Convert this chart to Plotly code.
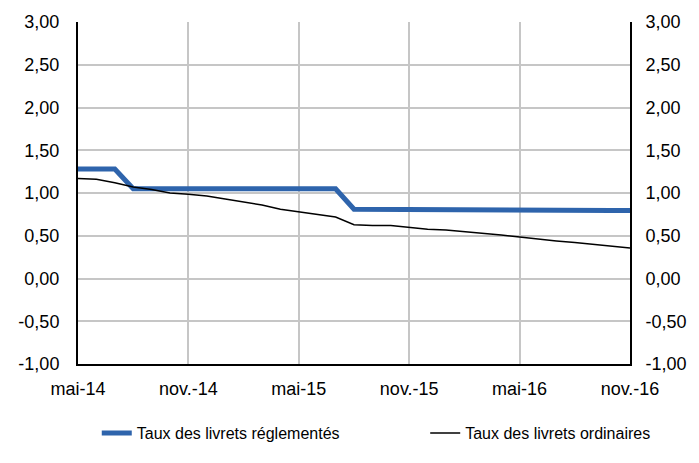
import plotly.graph_objects as go

months_fr = ["janv.", "févr.", "mars", "avr.", "mai", "juin", "juil.", "août", "sept.", "oct.", "nov.", "déc."]
periods = []
for y in (14, 15, 16):
    for m in range(12):
        periods.append(f"{months_fr[m]}-{y}")
periods = periods[4:4 + 31]  # mai-14 .. nov.-16

reglementes = [1.28, 1.28, 1.28,
               1.05, 1.05, 1.05, 1.05, 1.05, 1.05, 1.05, 1.05, 1.05, 1.05, 1.05, 1.05,
               0.81, 0.808, 0.806, 0.805, 0.804, 0.803, 0.802, 0.801, 0.80, 0.80, 0.80, 0.799, 0.798, 0.797, 0.796, 0.795]
ordinaires = [1.17, 1.16, 1.12, 1.07, 1.04, 1.00, 0.985, 0.965,
              0.93, 0.895, 0.86, 0.81, 0.78, 0.75, 0.72, 0.63, 0.62, 0.62, 0.60, 0.575,
              0.567, 0.55, 0.53, 0.51, 0.485, 0.46, 0.44, 0.42, 0.40, 0.376, 0.357]

tick_labels = ["mai-14", "nov.-14", "mai-15", "nov.-15", "mai-16", "nov.-16"]
y_ticks = [-1, -0.5, 0, 0.5, 1, 1.5, 2, 2.5, 3]
y_tick_text = ["-1,00", "-0,50", "0,00", "0,50", "1,00", "1,50", "2,00", "2,50", "3,00"]

fig = go.Figure()
fig.add_trace(go.Scatter(x=periods, y=reglementes, mode="lines", name="Taux des livrets réglementés",
                         line=dict(color="#2e64ac", width=5), legend="legend"))
fig.add_trace(go.Scatter(x=periods, y=ordinaires, mode="lines", name="Taux des livrets ordinaires",
                         line=dict(color="#000000", width=1.5), legend="legend2"))
# invisible trace for right axis
fig.add_trace(go.Scatter(x=periods, y=ordinaires, mode="lines", yaxis="y2", showlegend=False,
                         hoverinfo="skip", line=dict(width=0), opacity=0))

font = dict(family="Arial", size=18, color="#000000")
legend_font = dict(family="Arial", size=16, color="#000000")
fig.update_layout(
    width=691, height=455,
    margin=dict(l=70, r=69, t=14, b=99, autoexpand=False),
    plot_bgcolor="white", paper_bgcolor="white",
    font=font,
    xaxis=dict(type="category", range=[0, 30], tickmode="array", tickvals=tick_labels, ticktext=tick_labels,
               showgrid=True, gridcolor="#c6c6c6", gridwidth=2,
               showline=True, linecolor="#000000", linewidth=2, ticks="", zeroline=False,
               tickfont=font, ticklabelstandoff=7, automargin=False),
    yaxis=dict(range=[-1, 3], tickmode="array", tickvals=y_ticks, ticktext=y_tick_text,
               showgrid=True, gridcolor="#c6c6c6",
               gridwidth=2, showline=True, linecolor="#000000", linewidth=2, zeroline=False, ticks="",
               tickfont=font, ticklabelstandoff=13, automargin=False),
    yaxis2=dict(range=[-1, 3], tickmode="array", tickvals=y_ticks, ticktext=y_tick_text,
                overlaying="y", side="right",
                showgrid=False, showline=True, linecolor="#000000", linewidth=2, zeroline=False, ticks="",
                tickfont=font, ticklabelstandoff=10, automargin=False),
    legend=dict(orientation="h", x=0.034, xanchor="left", y=-0.152, yanchor="top", font=legend_font),
    legend2=dict(orientation="h", x=0.629, xanchor="left", y=-0.152, yanchor="top", font=legend_font),
    showlegend=True,
)

fig.write_html("out.html")
